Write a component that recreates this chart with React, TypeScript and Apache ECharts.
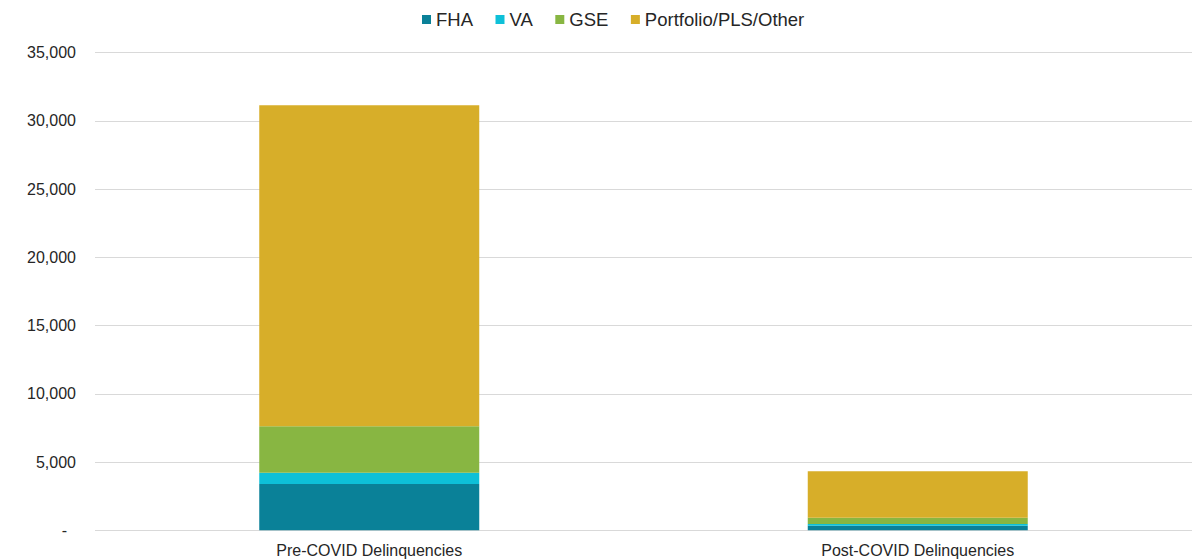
import React, { useEffect, useRef } from "react";
import * as echarts from "echarts";

const categories = ["Pre-COVID Delinquencies", "Post-COVID Delinquencies"];
const seriesNames = ["FHA", "VA", "GSE", "Portfolio/PLS/Other"];
const fhaValues = [3390, 340];
const vaValues = [830, 125];
const gseValues = [3400, 460];
const portfolioValues = [23530, 3410];
const colors = ["#0A8198", "#0EC0D8", "#88B642", "#D7AE29"];

export default function App() {
  const ref = useRef<HTMLDivElement>(null);
  useEffect(() => {
    if (!ref.current) return;
    const chart = echarts.init(ref.current, null, { renderer: "svg" });
    const values = [fhaValues, vaValues, gseValues, portfolioValues];
    chart.setOption({
      animation: false,
      textStyle: { fontFamily: "Liberation Sans, Arial, sans-serif" },
      legend: {
        data: seriesNames,
        left: 422,
        top: 10,
        padding: 0,
        itemWidth: 9,
        itemHeight: 9,
        itemGap: 22.5,
        icon: "rect",
        textStyle: { fontSize: 18.5, color: "#262626", fontFamily: "Liberation Sans, Arial, sans-serif" },
      },
      grid: { left: 95, right: 3, top: 52.7, bottom: 29.7, containLabel: false },
      xAxis: {
        type: "category",
        data: categories,
        axisLine: { show: false },
        axisTick: { show: false },
        axisLabel: { fontSize: 16, color: "#262626", margin: 12 },
      },
      yAxis: {
        type: "value",
        min: 0,
        max: 35000,
        interval: 5000,
        axisLine: { show: false },
        axisTick: { show: false },
        splitLine: { lineStyle: { color: "#D9D9D9", width: 1 } },
        axisLabel: {
          fontSize: 16,
          color: "#262626",
          margin: 19,
          formatter: (v: number) => (v === 0 ? "{z|-}" : v.toLocaleString("en-US")),
          rich: { z: { fontSize: 16, color: "#262626", padding: [0, 9, 0, 0] } },
        },
      },
      series: seriesNames.map((name, i) => ({
        name,
        type: "bar",
        stack: "total",
        barWidth: 220,
        data: values[i],
        itemStyle: { color: colors[i] },
      })),
    });
    return () => chart.dispose();
  }, []);
  return <div ref={ref} style={{ position: "absolute", left: 0, top: 0, width: 1195, height: 560 }} />;
}
